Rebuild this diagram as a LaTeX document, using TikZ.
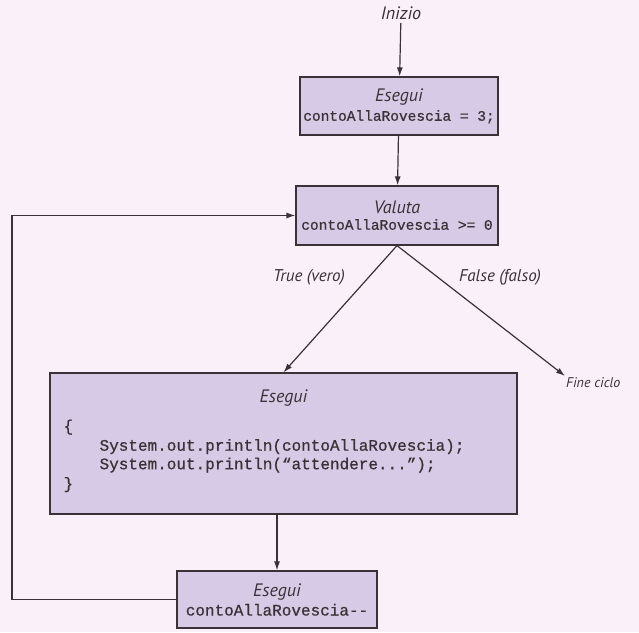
\documentclass[tikz,border=0pt]{standalone}
\usepackage{fontspec}
\newfontfamily\labfont{PT Sans}
\newfontfamily\codefont[Ligatures=TeXOff,FakeBold=0.7]{Liberation Mono}
\usetikzlibrary{arrows.meta}
\definecolor{page}{RGB}{250,240,250}
\definecolor{boxfill}{RGB}{214,202,230}
\definecolor{ink}{RGB}{58,50,54}
\newcommand{\labit}{\labfont\itshape\fontsize{18}{20}\selectfont}
\newcommand{\codeS}{\codefont\fontsize{14.5}{17}\selectfont}
\newcommand{\codeL}{\codefont\fontsize{16}{18.5}\selectfont}
\begin{document}
\begin{tikzpicture}[x=1pt,y=-1pt,
  every node/.style={text=ink},
  flow/.style={draw=ink,line width=1.2pt,-{Latex[length=9pt,width=6pt]}},
  box/.style={draw=ink,fill=boxfill,line width=1.2pt,align=center,inner sep=0pt},
  lab/.style={font=\labit},
  branch/.style={font=\labfont\itshape\fontsize{17}{19}\selectfont},
  small/.style={font=\labfont\itshape\fontsize{14}{16}\selectfont}
]
% page
\fill[page] (0,0) rectangle (639,632);
\useasboundingbox (0,0) rectangle (639,632);

% nodes
\node[lab] (start) at (401,13) {Inizio};
\node[box,minimum width=198,minimum height=58] (init) at (399,106)
  {{\labit Esegui}\\[4pt]{\codeS contoAllaRovescia = 3;}};
\node[box,minimum width=202,minimum height=59] (test) at (397,215.5)
  {{\labit Valuta}\\[4pt]{\codeS contoAllaRovescia >= 0}};
\node[box,minimum width=467,minimum height=141] (body) at (283.5,443.5) {};
\node[lab] (bodyT) at ([yshift=-26pt]body.north) {Esegui};
\node[anchor=north west,align=left,inner sep=0pt,font=\codeL] (bodyC)
  at ([xshift=14pt,yshift=-47pt]body.north west)
  {\{\\[1pt]
   \hspace*{36pt}System.out.println(contoAllaRovescia);\\[0pt]
   \hspace*{36pt}System.out.println(“attendere...”);\\[1pt]
   \}};
\node[box,minimum width=200,minimum height=57] (dec) at (277,599.5)
  {{\labit Esegui}\\[3pt]{\codeL contoAllaRovescia--}};
\node[small,anchor=north west,inner sep=1pt] (end) at (565,376) {Fine ciclo};
\node[branch] (yes) at (309,277) {True (vero)};
\node[branch] (no) at (500,277) {False (falso)};
\coordinate (loop) at (12,600);

% connectors
\draw[flow] (start) -- (init);
\draw[flow] (init) -- (test);
\draw[flow] (test.south) -- (body.north);
\draw[flow] (test.south) -- (end.north west);
\draw[flow] (body.south -| dec.north) -- (dec.north);
\draw[flow] (dec.west) -- (dec.west -| loop) |- (test.west);
\end{tikzpicture}
\end{document}
